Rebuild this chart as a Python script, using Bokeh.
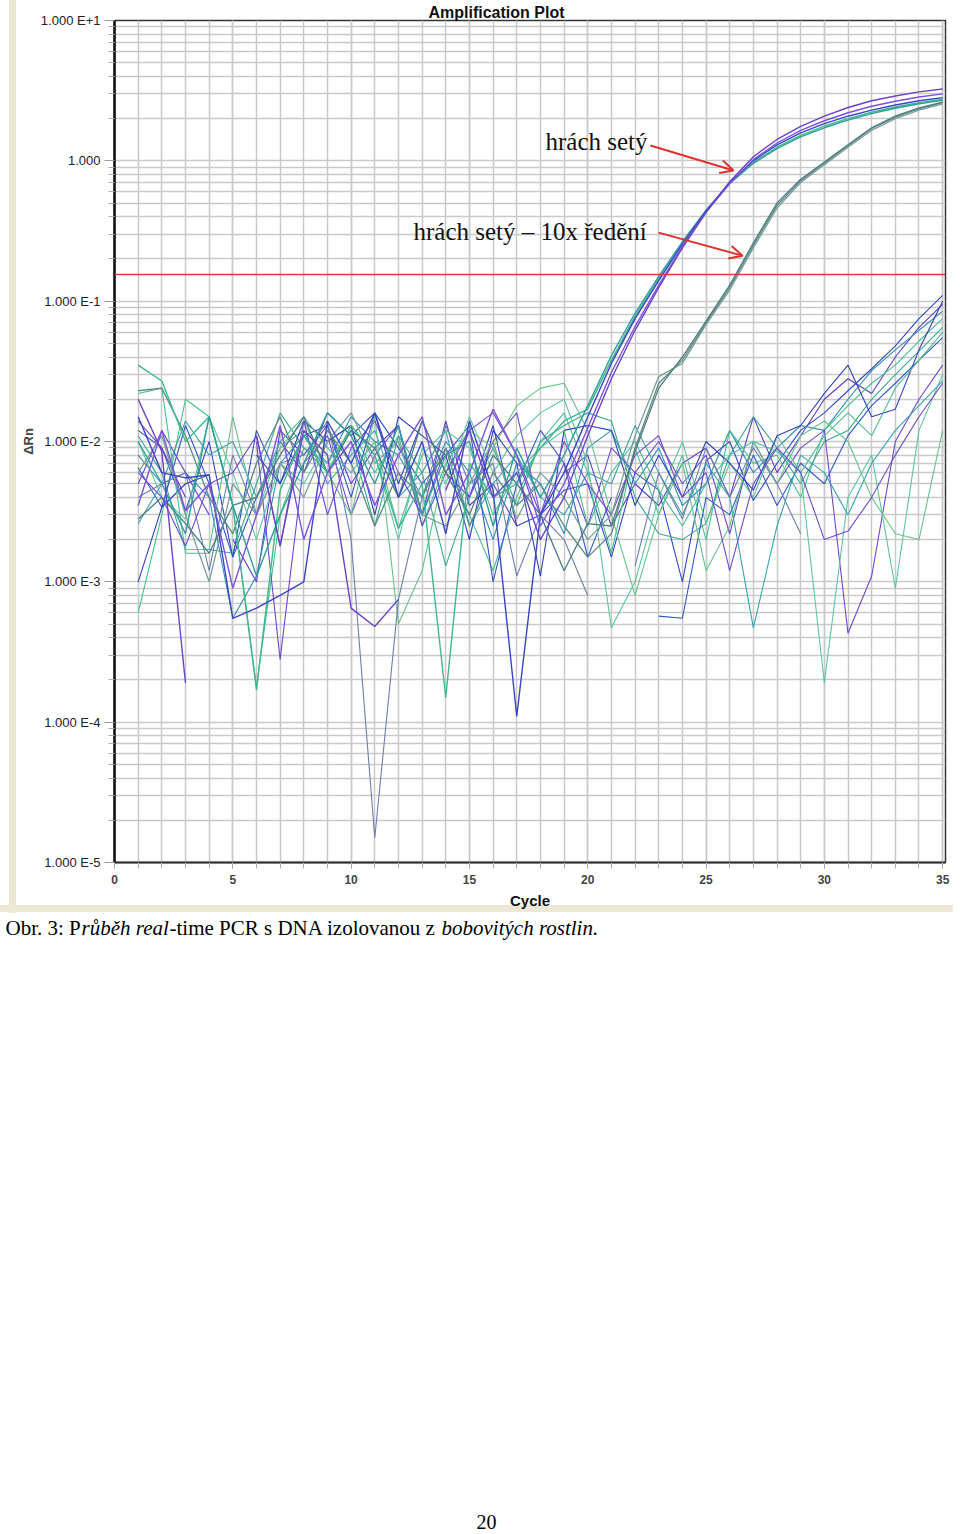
import numpy as np
from bokeh.plotting import figure
from bokeh.layouts import column
from bokeh.models import (Range1d, FixedTicker, SingleIntervalTicker, CustomJSTickFormatter,
                          Span, Label, Arrow, OpenHead, Title)
from bokeh.embed import file_html
from bokeh.resources import INLINE

nan = float("nan")
cycles = list(range(1, 36))

# ---- amplified samples: hrach sety ----
m1 = [2.0e-2, 8.5e-3, 1.9e-4, nan, nan, 1.1e-2, 1.8e-3, 1.2e-2, 8e-3, 6.5e-4,
      4.8e-4, 7.5e-4, nan, 4.5e-3, 1.2e-2, 4e-3, 6e-3, 2.0e-3, 4.0e-3, 1.1e-2,
      2.8e-2, 6.2e-2, 0.125, 0.24, 0.43, 0.71, 1.07, 1.42, 1.76, 2.08,
      2.4, 2.68, 2.9, 3.1, 3.25]
m2 = [3.5e-3, 1.2e-2, 3.2e-3, 5e-3, 9e-4, 3e-3, 1.3e-2, 2.0e-3, 6e-3, 1.0e-2,
      3.5e-3, 8e-3, 1.5e-2, 3e-3, 6e-3, 1.7e-2, 8e-3, 2.5e-3, 5e-3, 1.25e-2,
      3.1e-2, 6.6e-2, 0.13, 0.245, 0.43, 0.69, 1.02, 1.34, 1.65, 1.93,
      2.2, 2.45, 2.66, 2.85, 3.0]
m3 = [1.5e-2, 6e-3, 5.5e-3, 5.8e-3, 5.5e-4, 6.5e-4, 8e-4, 1.0e-3, 1.4e-2, 7e-3,
      1.6e-2, 4e-3, 1.0e-2, 2.2e-3, 1.4e-2, 4.5e-3, 1.1e-4, 3e-3, 6e-3, 1.5e-2,
      3.6e-2, 7.5e-2, 0.14, 0.255, 0.44, 0.7, 1.0, 1.3, 1.58, 1.84,
      2.08, 2.3, 2.5, 2.68, 2.82]
m4 = [3.5e-2, 2.7e-2, 1.0e-2, 1.5e-2, 3.5e-3, 1.7e-4, 4.5e-3, 1.1e-2, 6e-3, 1.3e-2,
      8e-3, 2.4e-3, 5e-3, 1.5e-4, 7e-3, 4e-3, 5e-3, 9e-3, 1.4e-2, 1.7e-2,
      3.8e-2, 7.8e-2, 0.145, 0.26, 0.44, 0.69, 0.97, 1.25, 1.52, 1.77,
      2.0, 2.22, 2.42, 2.6, 2.75]
m5 = [1.0e-2, 5e-3, 2.2e-3, 1.5e-2, 3.5e-3, 1.1e-3, 3e-3, 7e-3, 1.6e-2, 1.1e-2,
      5e-3, 1.3e-2, 3e-3, 8e-3, 1.0e-2, 2.5e-3, 9e-3, 4e-3, 8e-3, 1.8e-2,
      4.1e-2, 8.2e-2, 0.15, 0.265, 0.445, 0.69, 0.96, 1.22, 1.48, 1.72,
      1.95, 2.17, 2.37, 2.55, 2.7]

# ---- amplified samples: hrach sety, 10x diluted ----
d1 = [2.3e-2, 2.4e-2, 1.1e-2, 4e-3, 2.2e-3, 7e-3, 1.5e-2, 6e-3, 1.2e-2, 7e-3,
      2.5e-3, 6e-3, 4e-3, 9e-3, 2.5e-3, 6e-3, 3.5e-3, 5e-3, 2.5e-3, 1.5e-3,
      2.2e-3, 9e-3, 2.6e-2, 3.8e-2, 7e-2, 0.125, 0.25, 0.48, 0.72, 0.96,
      1.28, 1.7, 2.05, 2.35, 2.6]
d2 = [6e-3, 1.1e-2, 3e-3, 1.0e-3, 5e-3, 3e-3, 7e-3, 4e-3, 1.0e-2, 1.6e-2,
      7e-3, 1.0e-2, 3e-3, 2.5e-3, 5e-3, 1.0e-2, 2.8e-3, 6e-3, 4e-3, 2.0e-3,
      3e-3, 1.1e-2, 2.9e-2, 3.6e-2, 6.8e-2, 0.12, 0.24, 0.46, 0.70, 0.94,
      1.25, 1.65, 2.0, 2.3, 2.55]
d3 = [2.8e-3, 4e-3, 2.6e-3, 1.6e-3, 3.5e-3, 4e-3, 8e-3, 1.5e-2, 6e-3, 1.2e-2,
      9e-3, 4e-3, 1.4e-2, 6e-3, 3e-3, 8e-3, 5e-3, 3e-3, 1.2e-3, 2.6e-3,
      2.5e-3, 8.5e-3, 2.4e-2, 4.0e-2, 7.2e-2, 0.13, 0.26, 0.5, 0.74, 0.98,
      1.3, 1.72, 2.08, 2.38, 2.62]

# ---- other samples (background noise, late drift) ----
n1 = [1.2e-2, 9e-3, 3.2e-3, 1.0e-2, 1.5e-3, 4e-3, 1.0e-2, 6e-3, 1.6e-2, 1.1e-2,
      1.6e-2, 5e-3, 1.4e-2, 6e-3, 4e-3, 1.3e-2, 2.5e-3, 3e-3, 4.5e-3, 5e-3,
      1.5e-3, 6e-3, 4.5e-3, 1.0e-3, 7.3e-3, 1.0e-2, 3.8e-3, 7e-3, 1.2e-2, 1.6e-2,
      2.3e-2, 3.3e-2, 4.8e-2, 7.5e-2, 0.11]
n2 = [1.4e-2, 9e-3, 4e-3, nan, 2e-3, 1.0e-3, 1.2e-2, 8e-3, 1.3e-2, 5e-3,
      9e-3, 1.3e-2, 3e-3, 1.4e-2, 3.5e-3, 5e-3, 2.5e-3, nan, 6e-3, 8e-3,
      2.5e-3, 5e-3, 3.5e-3, 7e-3, 9e-3, 4e-3, 1.5e-2, 6e-3, 1.1e-2, 2.0e-2,
      2.8e-2, 2.2e-2, 4.0e-2, 6.5e-2, 9.5e-2]
n3 = [8e-3, 5e-3, 6e-3, 4e-3, 5.5e-4, 1.1e-3, 7e-3, 1.1e-2, 7e-3, 1.5e-2,
      1.0e-2, 8e-3, 4e-3, 1.0e-2, 6e-3, 2e-3, 7e-3, 5e-3, 2.2e-3, 9e-3,
      1.2e-2, 5e-3, 9e-3, 3.5e-3, 5e-3, 1.2e-2, 6e-3, 9e-3, 1.3e-2, 1.2e-2,
      2.0e-2, 3.2e-2, 4.5e-2, 6.2e-2, 8.5e-2]
n4 = [6e-4, 3e-3, 2.0e-2, 1.5e-2, 3.5e-3, 1.8e-4, 3e-3, 9e-3, 7e-3, 1.2e-2,
      6e-3, 1.1e-2, 2.5e-3, 7e-3, 3e-3, 1.2e-3, 4e-3, 1.0e-2, 1.6e-2, 6e-3,
      1.6e-3, 9e-3, 3e-3, 8e-3, 2e-3, 1.2e-2, 7e-3, 8e-3, 4e-3, 1.2e-2,
      1.8e-2, 2.6e-2, 3.5e-2, 5.2e-2, 7.5e-2]
n5 = [1.1e-2, 6e-3, 1.7e-3, 1.7e-3, 1.6e-3, 5e-3, 1.6e-2, 9e-3, 6e-3, 1.0e-2,
      2.5e-3, 1.1e-2, 6e-3, 1.3e-3, 4e-3, 9e-3, 3.5e-3, 1.0e-2, 1.3e-2, 1.6e-2,
      1.4e-2, 4e-3, 2.2e-3, 2.0e-3, 2.6e-3, 8e-3, 1.5e-2, 9e-3, 5e-3, 1.0e-2,
      1.2e-2, 2.0e-2, 3.0e-2, 4.4e-2, 6.5e-2]
n6 = [6.5e-3, 3.4e-3, 1.3e-2, 5e-3, 1.5e-3, 1.2e-2, 5e-3, 1.1e-2, 1.3e-2, 4e-3,
      1.6e-2, 9e-3, 5e-3, 8e-3, 1.3e-2, 1.0e-3, 5e-3, 1.2e-2, 7e-3, 1.5e-3,
      4e-3, nan, 5.7e-4, 5.5e-4, 4e-3, 3e-3, 8e-3, 3.5e-3, 7e-3, 5e-3,
      1.1e-2, 1.8e-2, 2.6e-2, 3.8e-2, 5.5e-2]
n7 = [5e-3, 1.2e-2, 6e-3, 3e-3, nan, 1.0e-2, 2.8e-4, 7e-3, 1.1e-2, 3e-3,
      8e-3, 1.3e-2, 2.5e-3, 6e-3, 1.2e-2, 1.6e-2, 8e-3, 3e-3, 7e-3, 2.5e-3,
      9e-3, 6e-3, 1.0e-2, 5e-3, 8e-3, 2.2e-3, 1.0e-2, 5e-3, 9e-3, 1.2e-2,
      4.3e-4, 1.1e-3, 1.0e-2, 2.0e-2, 3.5e-2]
n8 = [1.0e-2, 4e-3, 2.8e-3, 1.5e-2, 6e-3, 2e-3, 7e-3, 5e-3, 1.0e-2, 1.3e-2,
      8e-3, 2e-3, 9e-3, 5e-3, 1.5e-2, 6e-3, 1.1e-2, 1.6e-2, 2.0e-2, 7e-3,
      4.7e-4, 1.0e-3, 4e-3, 1.0e-2, 2.6e-3, 7e-3, 4e-3, 1.1e-2, 6e-3, 1.9e-4,
      4e-3, 8e-3, 9e-4, 1.2e-2, 3.0e-2]
n9 = [2.6e-3, 5e-3, 1.4e-2, 8e-3, 1.0e-2, 4e-3, 9e-3, 1.2e-2, 5e-3, 8e-3,
      1.2e-2, 4e-3, 6e-3, 1.2e-2, 2.5e-3, 5e-3, 8e-3, 4e-3, 3e-3, 6e-3,
      5e-3, 1.3e-2, 6e-3, 3e-3, 7e-3, 4e-3, 4.7e-4, 2.5e-3, 8e-3, 6e-3,
      3e-3, 7e-3, 1.2e-2, 1.8e-2, 2.7e-2]
n10 = [nan, nan, 1.7e-3, 1.7e-3, 1.5e-2, 3e-3, 9e-3, 1.4e-2, 6e-3, 3e-3,
       1.5e-2, 5e-4, 1.2e-3, 7e-3, 1.2e-2, 9e-3, 1.8e-2, 2.4e-2, 2.6e-2, 1.2e-2,
       3e-3, 8e-4, 3e-3, 7e-3, 1.2e-3, 2.5e-3, 1.0e-2, 5e-3, 1.1e-2, 1.4e-2,
       1.0e-2, 4e-3, 2.2e-3, 2.0e-3, 1.2e-2]
n11 = [4e-3, 5e-3, 6e-3, 1.2e-3, 8e-3, 3e-3, 7e-3, 8e-3, 1.4e-2, 2.0e-3,
       1.5e-5, 7.5e-4, 4e-3, 1.3e-2, 5e-3, 7e-3, 1.1e-3, 3e-3, 2.0e-3, 8e-4,
       nan, 1.3e-3, 6e-3, 2.8e-3, 9e-3, 4e-3, 9e-3, 5e-3, 2.2e-3, nan,
       nan, nan, nan, nan, nan]
n12 = [1.0e-3, 3.4e-3, 5e-3, 5.8e-3, nan, 8e-3, 5e-3, 1.4e-2, 1.0e-2, 1.3e-2,
       3e-3, 1.5e-2, 1.1e-2, 8e-3, 2e-3, 1.2e-2, 7e-3, 1.1e-3, 1.2e-2, 1.3e-2,
       1.2e-2, 3.5e-3, 8e-3, 4e-3, 1.0e-2, 7e-3, 4.5e-3, 1.1e-2, 1.3e-2, 2.2e-2,
       3.5e-2, 1.5e-2, 1.7e-2, 4.5e-2, 0.1]
n13 = [2.2e-2, 2.4e-2, 1.6e-3, 1.6e-3, nan, 4e-3, 1.0e-2, 1.5e-2, 9e-3, 6e-3,
       1.0e-2, 2.4e-3, 8e-3, 1.2e-2, 9e-3, 3e-3, 6e-3, 9e-3, 1.2e-2, 2.5e-3,
       6e-3, 1.0e-2, 4.5e-3, 2.5e-3, 5e-3, 8e-3, 1.0e-2, 8.5e-3, 6e-3, 1.1e-2,
       1.6e-2, 1.1e-2, 2.4e-2, 3.8e-2, 6.0e-2]
n14 = [6e-3, 4e-3, 1.8e-3, 5e-3, 6e-3, 1.1e-2, 1.8e-3, 1.4e-2, 3e-3, 9e-3,
       1.4e-2, 6e-3, 3e-3, 9e-3, 4e-3, 1.0e-2, 1.6e-2, 3e-3, 1.0e-2, 5e-3,
       3e-3, 8e-3, 1.1e-2, 4e-3, 6e-3, 1.2e-3, 5e-3, 9e-3, 6e-3, 2.0e-3,
       2.3e-3, 4e-3, 8e-3, 1.5e-2, 2.6e-2]

noise_series = [n1, n2, n3, n4, n5, n6, n7, n8, n9, n10, n11, n12, n13, n14]
noise_colors = ["#3546c8", "#5a3dc2", "#2d8cb8", "#46c08e", "#3aa88f", "#2f56c6", "#6c47cf",
                "#5ec59a", "#38a2b0", "#64c28d", "#6e7eac", "#3040b8", "#4fbb9b", "#7149d0"]
dil_series = [d1, d2, d3]
dil_colors = ["#5c8b86", "#7a9e98", "#4f7c80"]
main_series = [m4, m5, m3, m2, m1]
main_colors = ["#3fb88c", "#2e9f9a", "#3a46c4", "#7b52d9", "#6b43c9"]

threshold = 0.155
y_major = [1e-5, 1e-4, 1e-3, 1e-2, 1e-1, 1.0, 10.0]
y_minor = [m * 10.0 ** e for e in range(-5, 1) for m in range(2, 10)]

p = figure(width=953, height=913, x_range=Range1d(0, 35.12), y_range=Range1d(1e-5, 10),
           y_axis_type="log", output_backend="svg", toolbar_location=None,
           min_border_left=114, min_border_right=8, min_border_top=20, min_border_bottom=51)
p.background_fill_color = "white"
p.border_fill_color = None
p.styles = {
    "background-color": "white",
    "background-image": ("linear-gradient(to right, transparent 9px, #ebe9d6 9px, #ebe9d6 16px, "
                         "transparent 16px), linear-gradient(to bottom, transparent 905px, "
                         "#ebe9d6 905px, #ebe9d6 912px, transparent 912px)"),
}
p.outline_line_color = "#333333"
p.outline_line_width = 1.5

t = Title(text="Amplification Plot", align="left", offset=314, standoff=0,
          text_font="Liberation Sans", text_font_style="bold", text_font_size="16px",
          text_color="#111111")
p.add_layout(t, "above")

yt = FixedTicker(ticks=y_major, minor_ticks=y_minor)
p.yaxis.ticker = yt
p.ygrid.ticker = yt
p.yaxis.formatter = CustomJSTickFormatter(code="""
const e = Math.round(Math.log10(tick));
if (e == 0) { return "1.000"; }
return "1.000 E" + (e > 0 ? "+" + e : String(e));
""")
xt = SingleIntervalTicker(interval=5, num_minor_ticks=5)
p.xaxis.ticker = xt
p.xgrid.ticker = xt

for g in (p.xgrid, p.ygrid):
    g.grid_line_color = "#c9c9c9"
    g.grid_line_width = 1.5
    g.minor_grid_line_color = "#c9c9c9"
    g.minor_grid_line_width = 1.5

p.yaxis.axis_line_color = "#111111"
p.yaxis.axis_line_width = 2.5
p.yaxis.major_tick_out = 10
p.yaxis.major_tick_in = 0
p.yaxis.minor_tick_out = 6
p.yaxis.minor_tick_in = 0
p.yaxis.major_tick_line_color = "#999999"
p.yaxis.minor_tick_line_color = "#aaaaaa"
p.yaxis.major_label_standoff = 4
p.yaxis.major_label_text_font = "Liberation Sans"
p.yaxis.major_label_text_font_size = "13px"
p.yaxis.major_label_text_color = "#222222"
p.yaxis.axis_label = "ΔRn"
p.yaxis.axis_label_text_font = "Liberation Sans"
p.yaxis.axis_label_text_font_style = "bold"
p.yaxis.axis_label_text_font_size = "13px"
p.yaxis.axis_label_standoff = 2

p.xaxis.axis_line_color = "#333333"
p.xaxis.axis_line_width = 2
p.xaxis.major_tick_out = 6
p.xaxis.major_tick_in = 0
p.xaxis.minor_tick_out = 6
p.xaxis.minor_tick_in = 0
p.xaxis.major_tick_line_color = "#aaaaaa"
p.xaxis.minor_tick_line_color = "#aaaaaa"
p.xaxis.major_label_standoff = 6
p.xaxis.major_label_text_font = "Liberation Sans"
p.xaxis.major_label_text_font_style = "bold"
p.xaxis.major_label_text_font_size = "12px"
p.xaxis.major_label_text_color = "#444444"
p.xaxis.axis_label = "Cycle"
p.xaxis.axis_label_text_font = "Liberation Sans"
p.xaxis.axis_label_text_font_style = "bold"
p.xaxis.axis_label_text_font_size = "15px"
p.xaxis.axis_label_standoff = 5
p.xaxis.axis_label_text_color = "#111111"

for s, c in zip(noise_series, noise_colors):
    p.line(cycles, s, line_color=c, line_width=1.1)
for s, c in zip(dil_series, dil_colors):
    p.line(cycles, s, line_color=c, line_width=1.3)
for s, c in zip(main_series, main_colors):
    p.line(cycles, s, line_color=c, line_width=1.4)

p.add_layout(Span(location=threshold, dimension="width", line_color="#e03a3a", line_width=1.5))

# annotations inside the plot
p.add_layout(Label(x=545, y=141, x_units="canvas", y_units="canvas", text="hrách setý",
                   text_font="Liberation Serif", text_font_size="25px", text_baseline="middle",
                   text_color="#111111"))
p.add_layout(Label(x=413, y=231, x_units="canvas", y_units="canvas", text="hrách setý – 10x ředění",
                   text_font="Liberation Serif", text_font_size="25px", text_baseline="middle",
                   text_color="#111111"))
for xs, ys, xe, ye in [(22.65, 1.285, 26.16, 0.853), (22.99, 0.308, 26.54, 0.211)]:
    p.add_layout(Arrow(end=OpenHead(size=13, line_color="#e03030", line_width=2),
                       x_start=xs, y_start=ys, x_end=xe, y_end=ye,
                       line_color="#e03030", line_width=2))

# caption area (second figure, pixel coordinates)
cap_h = 619
q = figure(width=953, height=cap_h, x_range=Range1d(0, 953), y_range=Range1d(cap_h, 0),
           x_axis_type=None, y_axis_type=None, output_backend="svg", toolbar_location=None,
           min_border=0)
q.frame_align = False
q.outline_line_color = None
q.background_fill_color = "white"
q.border_fill_color = "white"

cap = [("Obr. 3: P", 5, "normal"), ("růběh real", 81, "italic"),
       ("-time PCR s DNA izolovanou z ", 169, "normal"), ("bobovitých rostlin.", 441, "italic")]
for txt, x, st in cap:
    q.add_layout(Label(x=x, y=14, text=txt, text_font="Liberation Serif", text_font_size="21px",
                       text_font_style=st, text_baseline="middle", text_color="#000000"))
q.add_layout(Label(x=486, y=608, text="20", text_font="Liberation Serif", text_font_size="20px",
                   text_align="center", text_baseline="middle", text_color="#000000"))

p.frame_align = False
layout = column(p, q, spacing=0)
open("out.html", "w").write(file_html(layout, INLINE))
